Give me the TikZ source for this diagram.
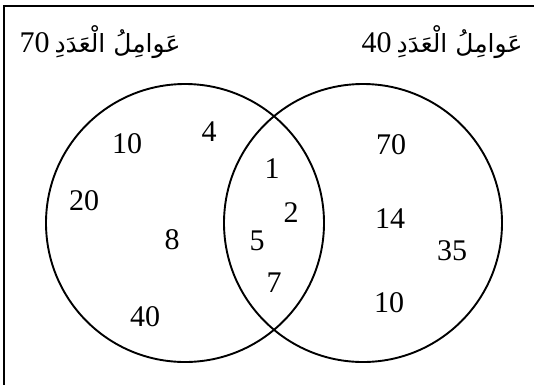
\documentclass[tikz,border=0pt]{standalone}
\usepackage{fontspec}
\setmainfont{Liberation Serif}
\newfontfamily\arabicfont[Script=Arabic]{DejaVu Sans}
\TeXXeTstate=1
\begin{document}
\begin{tikzpicture}[x=1pt,y=-1pt,
  num/.style={font=\fontsize{30}{32}\selectfont, inner sep=0pt},
  lbl/.style={font=\fontsize{30}{32}\selectfont, inner sep=0pt},
  ring/.style={draw, circle, line width=1.9pt, minimum size=278pt, inner sep=0pt}]
\useasboundingbox (0,0) rectangle (534,384);
\draw[line width=2.4pt] (4,400) -- (4,6) -- (540,6);
\node[ring] (L) at (185,223) {};
\node[ring] (R) at (363,223) {};
\node[lbl] (tl) at (100,42) {\beginR{\arabicfont\fontsize{25}{30}\selectfont عَوامِلُ الْعَدَدِ}\,\beginL 70\endL\endR};
\node[lbl] (tr) at (442,42) {\beginR{\arabicfont\fontsize{25}{30}\selectfont عَوامِلُ الْعَدَدِ}\,\beginL 40\endL\endR};
\node[num] (a1) at (127,144) {10};
\node[num] (a2) at (209,132) {4};
\node[num] (a3) at (84,201) {20};
\node[num] (a4) at (172,240) {8};
\node[num] (a5) at (145,317) {40};
\node[num] (b1) at (272,169) {1};
\node[num] (b2) at (291,213) {2};
\node[num] (b3) at (257,241) {5};
\node[num] (b4) at (274,283) {7};
\node[num] (c1) at (391,145) {70};
\node[num] (c2) at (390,219) {14};
\node[num] (c3) at (452,251) {35};
\node[num] (c4) at (389,303) {10};
\end{tikzpicture}
\end{document}
